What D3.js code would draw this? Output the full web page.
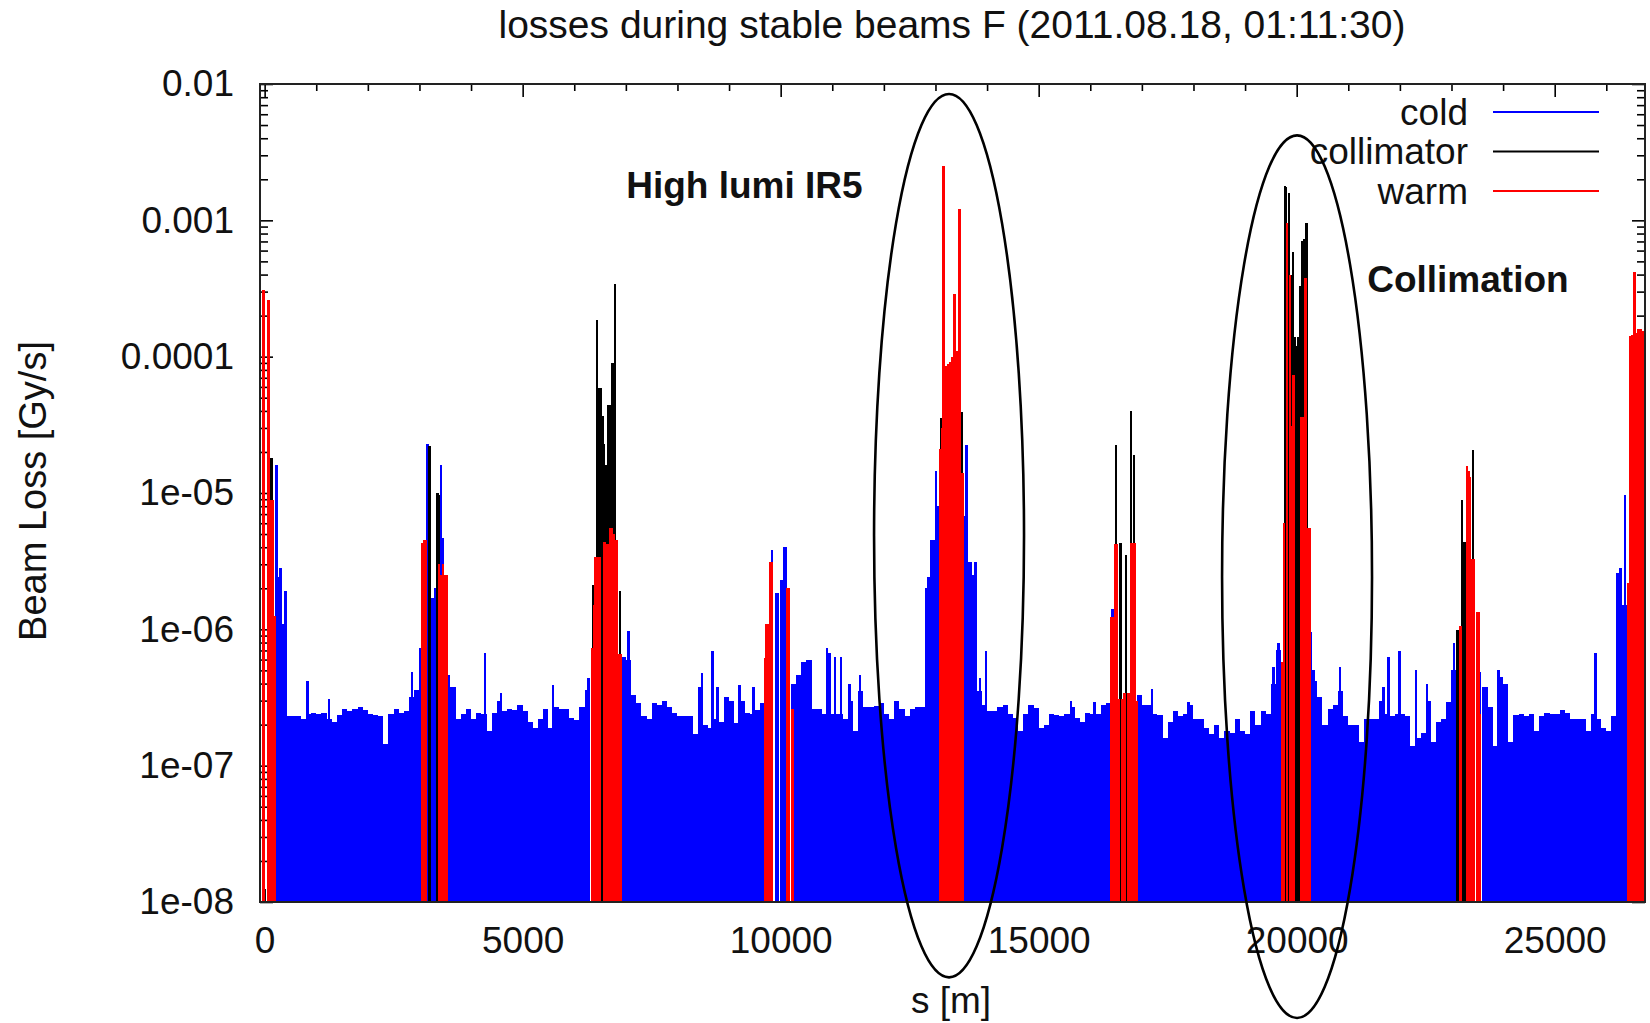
<!DOCTYPE html>
<html>
<head>
<meta charset="utf-8">
<title>losses during stable beams F</title>
<script src="https://cdn.jsdelivr.net/npm/d3@7"></script>
<style>
  body { margin: 0; background: #fff; }
  svg text { font-family: "Liberation Sans", Arial, sans-serif; fill: #111; }
</style>
</head>
<body>
<div id="chart"></div>
<script>
/*
BLM losses around the ring, log scale, cold / collimator / warm monitors.
*/

var title = "losses during stable beams F (2011.08.18, 01:11:30)";
var xLabel = "s [m]";
var yLabel = "Beam Loss [Gy/s]";

var sRange = [-90, 26750];
var lossRange = [1e-8, 1e-2];

var xTickValues = [0, 5000, 10000, 15000, 20000, 25000];
var xTickLabels = ["0", "5000", "10000", "15000", "20000", "25000"];
var yTickValues = [1e-8, 1e-7, 1e-6, 1e-5, 1e-4, 1e-3, 1e-2];
var yTickLabels = ["1e-08", "1e-07", "1e-06", "1e-05", "0.0001", "0.001", "0.01"];

// cold monitors, envelope per 100 m bin, in units of 1e-7 Gy/s (0 = no cold monitor there)
var coldBinSize = 100;
var coldUnit = 1e-7;
var coldBase = [
  0, 0, 24, 11, 2.3, 2.3, 2.3, 2.2, 2.4, 2.45,
  2.4, 2.45, 2.2, 2.1, 2.35, 2.6, 2.5, 2.6, 2.7, 2.55,
  2.4, 2.35, 2.3, 1.43, 2.4, 2.6, 2.45, 2.5, 3.2, 3.6,
  7.3, 0, 0, 0, 0, 4.6, 3.8, 2.2, 2.4, 2.6,
  2.2, 2.45, 2.4, 1.8, 2.45, 3.0, 2.5, 2.6, 2.55, 2.8,
  2.5, 2.1, 1.9, 2.2, 2.6, 1.9, 2.7, 2.6, 2.6, 2.25,
  2.15, 2.7, 3.6, 0, 0, 0, 0, 0, 0, 6.3,
  6.0, 3.3, 2.9, 2.3, 2.2, 2.9, 2.8, 3.0, 2.7, 2.45,
  2.3, 2.3, 2.3, 1.7, 3.8, 2.0, 1.9, 2.2, 2.1, 3.2,
  3.0, 2.05, 3.0, 2.45, 2.4, 2.55, 2.9, 0, 0, 0,
  0, 0, 4.0, 4.6, 5.8, 6.0, 2.6, 2.6, 2.4, 2.4,
  2.4, 2.4, 2.2, 3.0, 1.8, 3.5, 2.7, 2.7, 2.75, 2.9,
  2.4, 2.2, 3.0, 2.6, 2.3, 2.6, 2.7, 2.7, 20, 45,
  80, 0, 0, 0, 0, 68, 31, 25, 3.5, 2.8,
  2.5, 2.5, 2.7, 2.8, 2.4, 2.25, 1.8, 2.4, 2.8, 2.65,
  1.9, 2.0, 2.4, 2.35, 2.3, 2.39, 2.7, 2.25, 2.1, 2.45,
  2.4, 2.4, 2.8, 2.9, 0, 0, 0, 0, 0, 3.3,
  2.8, 2.8, 2.4, 2.35, 1.6, 2.1, 2.5, 2.3, 2.4, 2.8,
  2.2, 2.2, 1.9, 1.7, 2.0, 1.6, 1.8, 1.75, 2.2, 1.8,
  1.7, 2.5, 2.0, 2.5, 2.4, 4.0, 7.0, 0, 0, 0,
  0, 0, 0, 4.2, 3.2, 2.0, 2.6, 2.8, 3.5, 2.3,
  2.0, 2.0, 1.5, 2.2, 2.2, 2.2, 3.0, 2.4, 2.3, 2.4,
  2.4, 2.3, 1.4, 1.6, 1.75, 3.0, 1.5, 2.1, 2.2, 2.95,
  5.0, 0, 0, 0, 0, 0, 3.8, 2.7, 1.4, 4.5,
  4.0, 1.5, 2.35, 2.4, 2.3, 2.4, 1.8, 2.3, 2.45, 2.4,
  2.4, 2.55, 2.45, 2.2, 2.2, 2.2, 1.8, 2.4, 2.2, 1.9,
  1.8, 2.3, 26, 15, 20, 0, 0
];

// single cold monitors standing out of the envelope
var coldSpikeS = [230, 310, 400, 830, 1250, 2852, 3156, 3240, 3275, 3310,
  3414, 3455, 4273, 4583, 5585, 6276, 7051, 8472, 8679, 8776,
  9202, 9474, 9720, 9830, 9915, 9940, 10020, 10045, 10080, 10100,
  10895, 10946, 11056, 11166, 11334, 11541, 12865, 12950, 13010, 13045,
  13576, 13607, 13672, 13770, 13866, 13976, 15630, 16082, 16425, 17193,
  17904, 19551, 19648, 20280, 20326, 20843, 21683, 21780, 21993, 22316,
  22523, 23052, 23556, 23912, 25785, 26218, 26270, 26366];
var coldSpikeV = [1.6e-5, 2.8e-6, 1.9e-6, 4.2e-7, 3.1e-7, 4.9e-7, 2.3e-5, 1.7e-6, 1.7e-6, 2.0e-6,
  1.6e-5, 4.7e-6, 6.7e-7, 3.4e-7, 3.9e-7, 4.4e-7, 9.7e-7, 4.8e-7, 6.9e-7, 3.8e-7,
  3.9e-7, 3.8e-7, 7.0e-7, 3.8e-6, 1.85e-6, 1.85e-6, 2.3e-6, 2.3e-6, 4.0e-6, 4.0e-6,
  7.3e-7, 6.7e-7, 6.3e-7, 6.3e-7, 4.0e-7, 4.6e-7, 2.4e-6, 3.7e-6, 1.45e-5, 7.2e-6,
  6.8e-6, 2.26e-5, 3.1e-6, 3.1e-6, 4.4e-7, 6.9e-7, 3.0e-7, 2.95e-7, 1.42e-6, 3.65e-7,
  2.95e-7, 5.3e-7, 8.0e-7, 9.5e-7, 5.0e-7, 5.3e-7, 3.8e-7, 6.3e-7, 6.9e-7, 5.0e-7,
  4.0e-7, 8.0e-7, 4.9e-7, 5.0e-7, 6.7e-7, 2.6e-6, 2.8e-6, 9.7e-6];

var collimatorS = [130,
  3195, 3345, 3380, 3510,
  6366, 6438, 6475, 6510, 6545, 6580, 6620, 6660, 6695, 6730, 6760, 6793, 6890,
  13105, 13515,
  16500, 16590, 16695, 16790, 16845,
  19770, 19790, 19851, 19895, 19925, 19960, 19995, 20030, 20065, 20110, 20140, 20190,
  23104, 23135, 23201, 23246, 23270, 23420];
var collimatorV = [1.8e-5,
  2.2e-5, 1.0e-5, 9.7e-6, 1.1e-6,
  2.1e-6, 1.85e-4, 5.9e-5, 5.9e-5, 3.7e-5, 2.3e-5, 1.6e-5, 4.4e-5, 4.4e-5, 9.0e-5, 9.0e-5, 3.4e-4, 1.9e-6,
  3.55e-5, 3.9e-5,
  2.26e-5, 4.3e-6, 3.5e-6, 4.0e-5, 1.9e-5,
  1.8e-3, 1.75e-3, 1.6e-3, 4.0e-4, 5.9e-4, 1.4e-4, 1.2e-4, 1.4e-4, 3.3e-4, 7.0e-4, 7.3e-4, 9.6e-4,
  9.9e-7, 9.9e-7, 8.9e-6, 4.4e-6, 4.4e-6, 2.07e-5];

var warmS = [-20, 75, 120, 160, 195,
  3060, 3095, 3130, 3380, 3420, 3455, 3490, 3525,
  6340, 6380, 6410, 6470, 6502, 6586, 6620, 6650, 6690, 6720, 6755, 6795, 6825, 6860, 6895,
  9700, 9730, 9760, 9800, 9835, 10120, 10150, 10230,
  13095, 13125, 13161, 13215, 13250, 13280, 13325, 13366, 13405, 13467, 13500, 13530,
  16405, 16440, 16480, 16515, 16555, 16625, 16660, 16730, 16765, 16800, 16835, 16870, 16900,
  19720, 19755, 19815, 19870, 19905, 19940, 20095, 20130, 20175, 20215, 20250,
  23169, 23298, 23330, 23362, 23395, 23440, 23492, 23525, 23556,
  26420, 26460, 26500, 26541, 26580, 26620, 26660, 26700, 26735];
var warmV = [3.1e-4, 2.6e-4, 8.9e-6, 8.9e-6, 1.25e-6,
  4.3e-6, 4.5e-6, 4.5e-6, 3.0e-6, 2.5e-6, 3.0e-6, 2.5e-6, 2.5e-6,
  7.3e-7, 1.5e-6, 3.4e-6, 3.4e-6, 3.4e-6, 4.4e-6, 4.2e-6, 4.2e-6, 5.5e-6, 5.5e-6, 5.0e-6, 4.5e-6, 4.5e-6, 6.6e-7, 6.6e-7,
  6.2e-7, 1.1e-6, 1.1e-6, 3.1e-6, 3.1e-6, 2.0e-6, 2.0e-6, 2.6e-7,
  2.1e-5, 3.0e-5, 2.5e-3, 8.5e-5, 8.8e-5, 9.1e-5, 1.0e-4, 2.9e-4, 1.1e-4, 1.22e-3, 1.4e-5, 1.4e-5,
  1.23e-6, 1.23e-6, 4.2e-6, 4.2e-6, 3.1e-7, 3.1e-7, 3.4e-7, 3.4e-7, 3.4e-7, 4.3e-6, 4.3e-6, 4.3e-6, 3.0e-7,
  5.8e-7, 6.0e-6, 9.6e-4, 4.0e-4, 3.1e-5, 7.3e-5, 3.6e-5, 3.6e-5, 3.8e-4, 5.5e-6, 5.5e-6,
  1.05e-6, 1.58e-5, 1.45e-5, 1.32e-5, 3.3e-6, 3.3e-6, 1.33e-6, 1.33e-6, 2.4e-7,
  2.2e-6, 1.42e-4, 1.45e-4, 4.2e-4, 1.5e-4, 1.6e-4, 1.6e-4, 1.55e-4, 1.55e-4];

var legendNames = ["cold", "collimator", "warm"];
var legendColors = ["#0000ff", "#000000", "#ff0000"];

// hand-drawn annotations (in data coordinates)
var noteText = ["High lumi IR5", "Collimation"];
var noteS = [7006, 21366];
var noteV = [1.46e-3, 2.98e-4];
var ellipseS = [13263, 20007];
var ellipseHalfS = [1453, 1453];
var ellipseTopV = [8.45e-3, 4.2e-3];
var ellipseBottomV = [2.8e-9, 1.41e-9];


function lossChart() {

	var width = 1650,
		height = 1023;

	var plot = {left: 260, right: 1645, top: 84, bottom: 902};
	var impulse = 2.6;	// gnuplot impulse line width in px

	var x = d3.scaleLinear()
		.domain(sRange)
		.range([plot.left, plot.right]);

	var y = d3.scaleLog()
		.domain(lossRange)
		.range([plot.bottom, plot.top]);

	var svg = d3.select("#chart").append("svg")
		.attr("width", width)
		.attr("height", height);

	svg.append("text")
		.attr("x", 952)
		.attr("y", 38)
		.attr("text-anchor", "middle")
		.style("font-size", "39px")
		.text(title);

	// ticks first, the monitors are drawn over them like in the original
	var yMinor = y.ticks().filter(function(d) { return yTickValues.indexOf(d) < 0; });
	var xMinor = d3.range(0, 26001, 1000).filter(function(d) { return xTickValues.indexOf(d) < 0; });

	function styleAxis(g) {
		g.select(".domain").remove();
		g.attr("color", "#000");
		g.selectAll(".tick line").attr("stroke-width", 1.6);
		g.selectAll("text").style("font-size", "37px").attr("fill", "#111");
	}

	svg.append("g")
		.attr("transform", "translate(" + plot.left + ",0)")
		.call(d3.axisLeft(y).tickValues(yTickValues)
			.tickFormat(function(d, i) { return yTickLabels[i]; })
			.tickSizeInner(-13).tickSizeOuter(0).tickPadding(26))
		.call(styleAxis);

	svg.append("g")
		.attr("transform", "translate(" + plot.left + ",0)")
		.call(d3.axisLeft(y).tickValues(yMinor).tickFormat("")
			.tickSizeInner(-8).tickSizeOuter(0))
		.call(styleAxis);

	svg.append("g")
		.attr("transform", "translate(" + plot.right + ",0)")
		.call(d3.axisRight(y).tickValues(yTickValues).tickFormat("")
			.tickSizeInner(-13).tickSizeOuter(0))
		.call(styleAxis);

	svg.append("g")
		.attr("transform", "translate(" + plot.right + ",0)")
		.call(d3.axisRight(y).tickValues(yMinor).tickFormat("")
			.tickSizeInner(-8).tickSizeOuter(0))
		.call(styleAxis);

	svg.append("g")
		.attr("transform", "translate(0," + plot.bottom + ")")
		.call(d3.axisBottom(x).tickValues(xTickValues)
			.tickFormat(function(d, i) { return xTickLabels[i]; })
			.tickSizeInner(-13).tickSizeOuter(0).tickPadding(25))
		.call(styleAxis);

	svg.append("g")
		.attr("transform", "translate(0," + plot.bottom + ")")
		.call(d3.axisBottom(x).tickValues(xMinor).tickFormat("")
			.tickSizeInner(-7).tickSizeOuter(0))
		.call(styleAxis);

	svg.append("g")
		.attr("transform", "translate(0," + plot.top + ")")
		.call(d3.axisTop(x).tickValues(xTickValues).tickFormat("")
			.tickSizeInner(-13).tickSizeOuter(0))
		.call(styleAxis);

	svg.append("g")
		.attr("transform", "translate(0," + plot.top + ")")
		.call(d3.axisTop(x).tickValues(xMinor).tickFormat("")
			.tickSizeInner(-7).tickSizeOuter(0))
		.call(styleAxis);

	svg.append("clipPath")
		.attr("id", "plot-clip")
	  .append("rect")
		.attr("x", plot.left)
		.attr("y", plot.top)
		.attr("width", plot.right - plot.left)
		.attr("height", plot.bottom - plot.top);

	var bars = svg.append("g")
		.attr("clip-path", "url(#plot-clip)")
		.attr("shape-rendering", "crispEdges");

	// cold envelope as one stepped area, broken where there is no cold monitor
	var coldPts = [];
	coldBase.forEach(function(v, i) {
		if (v > 0) {
			coldPts.push({s: i * coldBinSize, v: v * coldUnit});
			coldPts.push({s: (i + 1) * coldBinSize, v: v * coldUnit});
		} else {
			coldPts.push(null);
		}
	});

	var coldArea = d3.area()
		.defined(function(d) { return d !== null; })
		.x(function(d) { return x(d.s); })
		.y0(plot.bottom)
		.y1(function(d) { return y(d.v); });

	bars.append("path")
		.datum(coldPts)
		.attr("d", coldArea)
		.attr("fill", legendColors[0]);

	function impulses(sel, sArr, vArr, color) {
		sel.append("g")
			.selectAll("rect")
			.data(d3.zip(sArr, vArr))
		  .enter().append("rect")
			.attr("x", function(d) { return x(d[0]) - impulse / 2; })
			.attr("width", impulse)
			.attr("y", function(d) { return y(d[1]); })
			.attr("height", function(d) { return plot.bottom - y(d[1]); })
			.attr("fill", color);
	}

	impulses(bars, coldSpikeS, coldSpikeV, legendColors[0]);
	impulses(bars, collimatorS, collimatorV, legendColors[1]);
	impulses(bars, warmS, warmV, legendColors[2]);

	// frame
	svg.append("rect")
		.attr("x", plot.left)
		.attr("y", plot.top)
		.attr("width", plot.right - plot.left)
		.attr("height", plot.bottom - plot.top)
		.attr("fill", "none")
		.attr("stroke", "#222")
		.attr("stroke-width", 2);

	svg.append("text")
		.attr("x", 951)
		.attr("y", 1013)
		.attr("text-anchor", "middle")
		.style("font-size", "37px")
		.text(xLabel);

	svg.append("text")
		.attr("transform", "translate(46,491) rotate(-90)")
		.attr("text-anchor", "middle")
		.style("font-size", "38px")
		.text(yLabel);

	// legend
	var legend = svg.append("g");
	legendNames.forEach(function(name, i) {
		var ly = 112 + i * 39.5;
		legend.append("text")
			.attr("x", 1468)
			.attr("y", ly)
			.attr("dy", "0.35em")
			.attr("text-anchor", "end")
			.style("font-size", "37px")
			.text(name);
		legend.append("line")
			.attr("x1", 1493)
			.attr("x2", 1599)
			.attr("y1", ly)
			.attr("y2", ly)
			.attr("stroke", legendColors[i])
			.attr("stroke-width", 2);
	});

	// annotations
	noteText.forEach(function(t, i) {
		svg.append("text")
			.attr("x", x(noteS[i]))
			.attr("y", y(noteV[i]))
			.style("font-size", "37px")
			.style("font-weight", "bold")
			.attr("fill", "#000")
			.text(t);
	});

	ellipseS.forEach(function(s, i) {
		var top = y(ellipseTopV[i]),
			bottom = y(ellipseBottomV[i]);
		svg.append("ellipse")
			.attr("cx", x(s))
			.attr("cy", (top + bottom) / 2)
			.attr("rx", x(s + ellipseHalfS[i]) - x(s))
			.attr("ry", (bottom - top) / 2)
			.attr("fill", "none")
			.attr("stroke", "#000")
			.attr("stroke-width", 2.6);
	});
}

lossChart();
</script>
</body>
</html>
